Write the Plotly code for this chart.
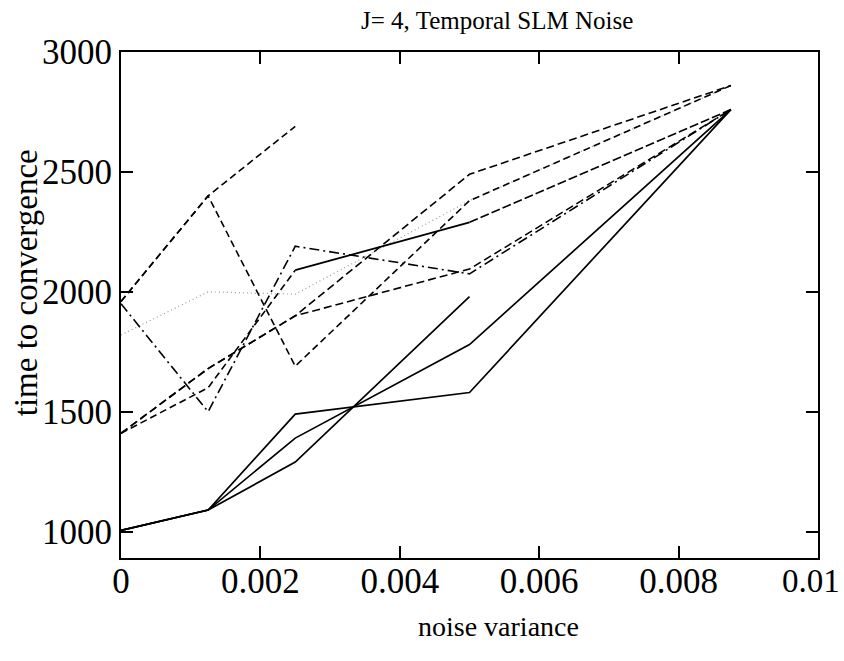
import plotly.graph_objects as go

# x positions (noise variance) at which runs were sampled
noise_var = [0, 0.00125, 0.0025, 0.005, 0.00875]

# solid runs
solid_1 = [1005, 1090, 1490, 1580, 2760]
solid_2 = [1005, 1090, 1390, 1780, 2760]
solid_3 = [1005, 1090, 1290, 1980, None]

# dashed runs
dash_1 = [1960, 2400, 2690, None, None]
dash_2 = [1960, 2400, 1690, 2380, 2860]
dashdot_1 = [1950, 1500, 2190, 2075, 2760]
dash_3 = [1410, 1600, 2090, 2290, 2760]
dash_4 = [1410, 1680, 1900, 2490, 2860]
dash_5 = [1410, 1680, 1900, 2095, 2760]

# dotted run (faint)
dotted_1 = [1820, 2000, 1990, 2380, 2860]

x_tick_vals = [0, 0.002, 0.004, 0.006, 0.008, 0.01]
x_tick_text = ["0", "0.002", "0.004", "0.006", "0.008", "0.01"]
y_tick_vals = [1000, 1500, 2000, 2500, 3000]
y_tick_text = ["1000", "1500", "2000", "2500", "3000"]

title_text = "J= 4, Temporal SLM Noise"
x_title = "noise variance"
y_title = "time to convergence"

FONT = "Liberation Serif, Times New Roman, serif"
TICK_SIZE = 35

fig = go.Figure()


def add(xs, ys, dash, width=1.6, color="black"):
    fig.add_trace(go.Scatter(x=xs, y=ys, mode="lines", connectgaps=False,
                             line=dict(color=color, width=width, dash=dash),
                             showlegend=False, hoverinfo="skip"))


add(noise_var, dotted_1, "1px,3px", width=1.2, color="#9a9a9a")
add(noise_var, dash_1, "7px,4px")
add(noise_var, dash_2, "7px,4px")
add(noise_var, dashdot_1, "10px,4px,2px,4px")
# run with mixed appearance: dashed, then solid-looking, then dashed
add(noise_var[0:3], dash_3[0:3], "7px,4px")
add(noise_var[2:4], dash_3[2:4], "solid", width=1.8)
add(noise_var[3:5], dash_3[3:5], "9px,3px")
add(noise_var, dash_4, "8px,4px")
add(noise_var, dash_5, "8px,4px")
add(noise_var, solid_1, "solid", width=1.7)
add(noise_var, solid_2, "solid", width=1.7)
add(noise_var, solid_3, "solid", width=1.7)

axis_common = dict(showgrid=False, zeroline=False, showline=True,
                   linecolor="black", linewidth=2, mirror="ticks",
                   ticks="inside", ticklen=12, tickwidth=1.6, tickcolor="black",
                   ticklabeloverflow="allow", automargin=False,
                   tickfont=dict(family=FONT, size=TICK_SIZE, color="black"))

# last x label is placed as an annotation so it stays inside the page
x_text_axis = x_tick_text[:-1] + [""]

fig.update_layout(
    width=844, height=661,
    margin=dict(l=121, r=26, t=52, b=103),
    paper_bgcolor="white", plot_bgcolor="white",
    xaxis=dict(range=[0, 0.0100001], tickmode="array", tickvals=x_tick_vals,
               ticktext=x_text_axis, ticklabelstandoff=-9, **axis_common),
    yaxis=dict(range=[890, 3000], tickmode="array", tickvals=y_tick_vals,
               ticktext=y_tick_text, ticklabelstandoff=0, **axis_common),
    annotations=[
        dict(text=title_text, xref="paper", yref="paper", x=0.539, y=1,
             yshift=32, xanchor="center", yanchor="middle", showarrow=False,
             font=dict(family=FONT, size=25, color="black")),
        dict(text=x_title, xref="paper", yref="paper", x=0.542, y=0,
             yshift=-68, xanchor="center", yanchor="middle", showarrow=False,
             font=dict(family=FONT, size=28, color="black")),
        dict(text=y_title, xref="paper", yref="paper", x=0, y=0.543,
             xshift=-95, xanchor="center", yanchor="middle", showarrow=False,
             textangle=-90, font=dict(family=FONT, size=33, color="black")),
        dict(text=x_tick_text[-1], xref="x", yref="paper", x=x_tick_vals[-1],
             y=0, xshift=24, yshift=-23, xanchor="right", yanchor="middle",
             showarrow=False,
             font=dict(family=FONT, size=TICK_SIZE - 2, color="black")),
    ],
)

fig.write_html("out.html")
